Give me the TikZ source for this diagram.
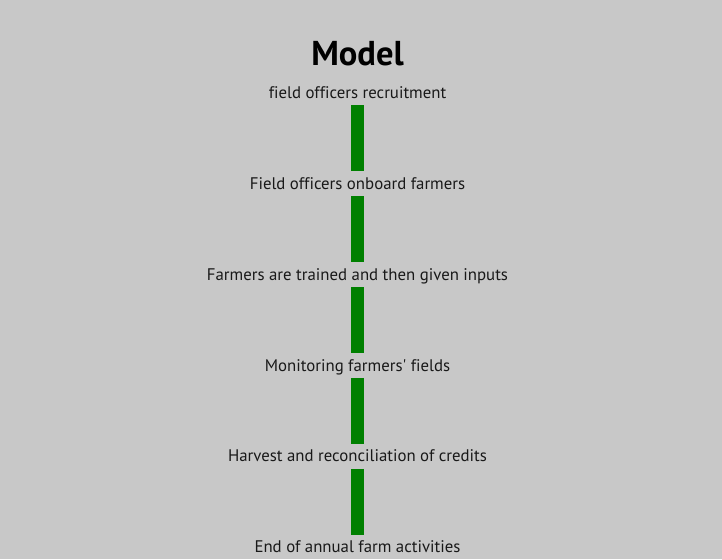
\documentclass[tikz,border=0pt]{standalone}
\usepackage{fontspec}
\setmainfont[Ligatures=NoCommon]{PT Sans}
\definecolor{bg}{HTML}{C8C8C8}
\definecolor{bar}{HTML}{008000}
\begin{document}
\begin{tikzpicture}[x=1pt,y=-1pt,
  lbl/.style={anchor=base,font=\fontsize{16.8}{19}\selectfont,text=black!90,
    text height=15.3pt,text depth=4pt,inner ysep=2.7pt,inner xsep=0pt},
  link/.style={draw=bar,line width=13pt}]
\fill[bg] (0,0) rectangle (722,559);
\useasboundingbox (0,0) rectangle (722,559);
\node[anchor=base,font=\fontsize{34.5}{38}\selectfont\bfseries] (title) at (357.5,66) {Model};
\node[lbl] (s1) at (357.5,98.3) {field officers recruitment};
\node[lbl] (s2) at (357.5,189.2) {Field officers onboard farmers};
\node[lbl] (s3) at (357.5,280.1) {Farmers are trained and then given inputs};
\node[lbl] (s4) at (357.5,371.0) {Monitoring farmers\textquotesingle\ fields};
\node[lbl] (s5) at (357.5,461.9) {Harvest and reconciliation of credits};
\node[lbl] (s6) at (357.5,552.8) {End of annual farm activities};
\foreach \a/\b in {s1/s2,s2/s3,s3/s4,s4/s5,s5/s6}
  \draw[link] (\a.south) -- (\b.north);
\end{tikzpicture}
\end{document}
